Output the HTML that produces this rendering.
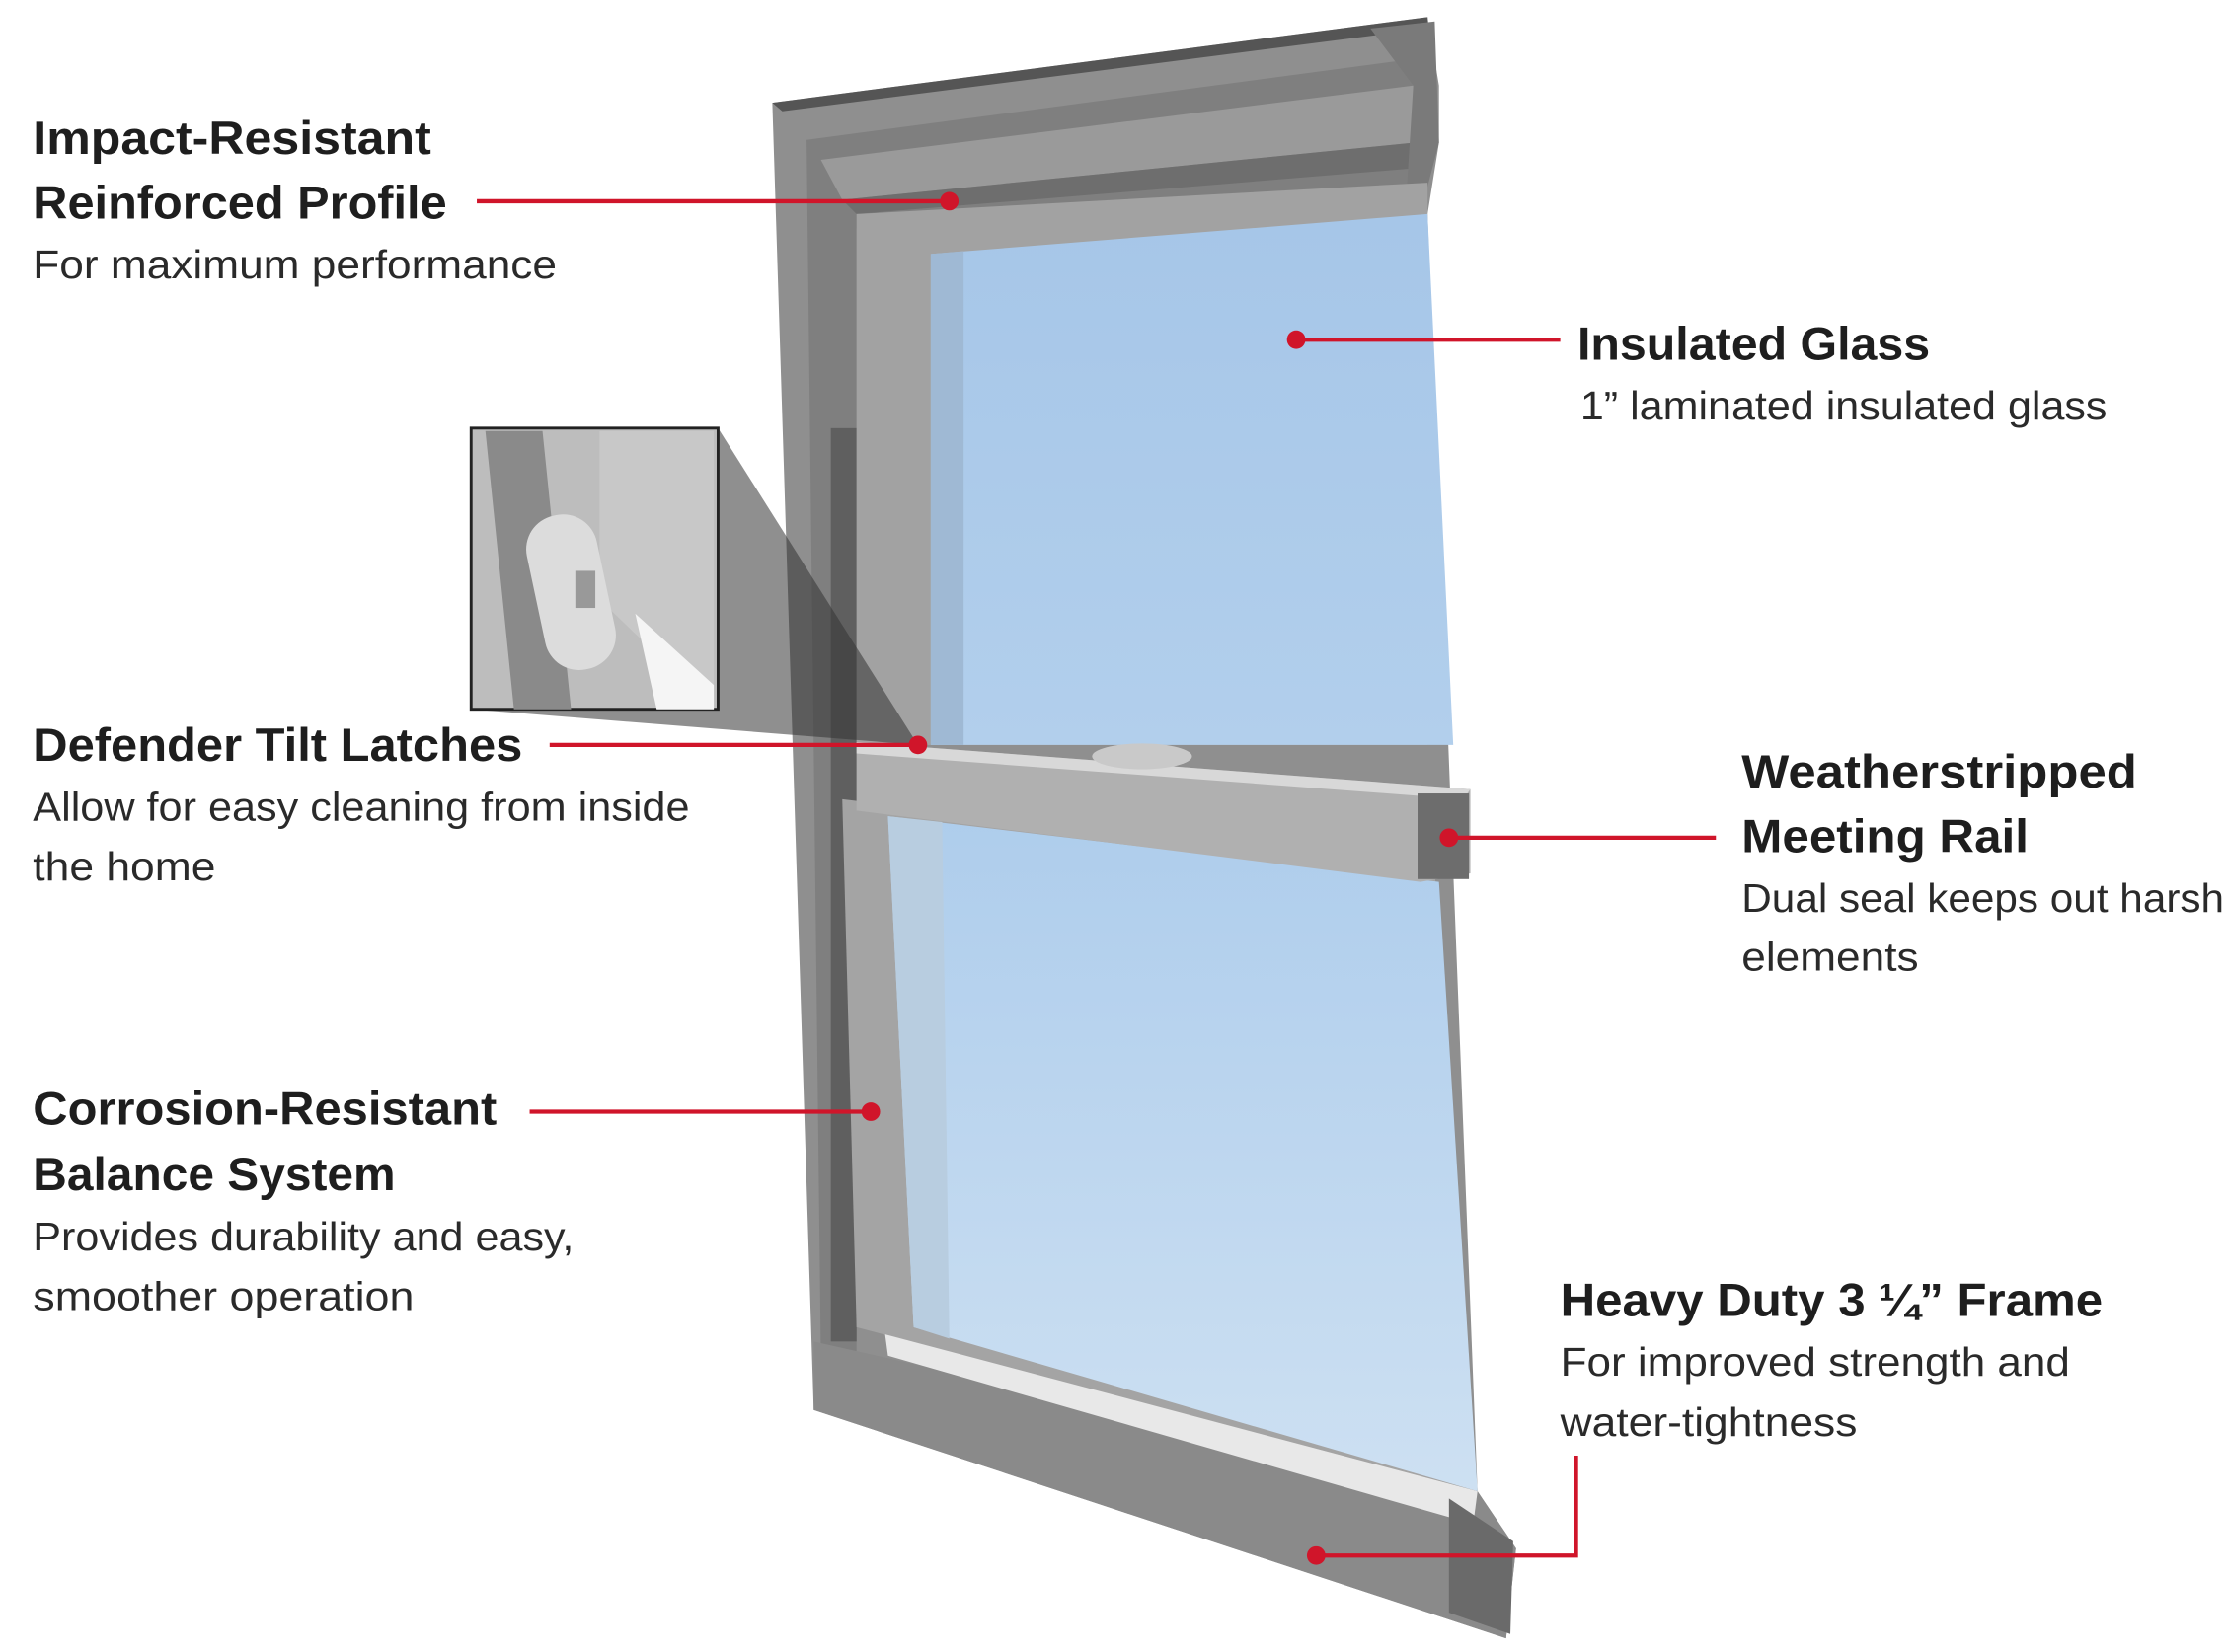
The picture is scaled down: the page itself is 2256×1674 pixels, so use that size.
<!DOCTYPE html>
<html><head><meta charset="utf-8"><style>
html,body{margin:0;padding:0;background:#fff;}
svg{display:block;}
.t{font-family:"Liberation Sans",sans-serif;font-weight:bold;font-size:33px;fill:#1e1e1e;}
.s{font-family:"Liberation Sans",sans-serif;font-size:28px;fill:#2a2a2a;}
</style></head><body>
<svg width="2256" height="1674" viewBox="0 0 1560 1157.6" xmlns="http://www.w3.org/2000/svg">
<defs>
<linearGradient id="g1" x1="0" y1="0" x2="0" y2="1"><stop offset="0" stop-color="#a6c6e8"/><stop offset="1" stop-color="#b2cfec"/></linearGradient>
<linearGradient id="g2" x1="0" y1="0" x2="0" y2="1"><stop offset="0" stop-color="#aecdec"/><stop offset="1" stop-color="#cde0f2"/></linearGradient>
</defs>
<!-- frame -->
<polygon points="541,72 1000,12 1008,60 1008,100 1000,150 1035,1045 1062,1085 1055,1148 570,988" fill="#8f8f8f"/>
<polygon points="541,72 1000,12 1000,20 548,78" fill="#555"/>
<polygon points="565,98 1000,40 1000,130 600,160 600,960 575,950" fill="#7f7f7f"/>
<polygon points="575,112 990,60 990,100 590,140" fill="#9a9a9a"/>
<polygon points="590,140 990,100 990,118 600,150" fill="#6e6e6e"/>
<polygon points="960,20 1005,15 1008,100 995,150 985,140 990,60" fill="#7a7a7a"/>
<rect x="582" y="300" width="18" height="640" fill="#5f5f5f"/>
<!-- upper sash -->
<polygon points="600,150 1000,128 1000,522 600,522" fill="#a2a2a2"/>
<polygon points="652,178 1000,150 1018,522 652,522" fill="url(#g1)"/>
<polygon points="652,178 675,176 675,522 652,522" fill="#9fb9d4"/>
<!-- lower sash -->
<polygon points="590,560 1005,610 1035,1045 600,930" fill="#a4a4a4"/>
<polygon points="622,572 1008,618 1035,1045 640,930" fill="url(#g2)"/>
<polygon points="622,572 660,576 665,938 640,930" fill="#b8cde0"/>
<!-- meeting rail -->
<polygon points="600,520 1030,553 1030,612 995,618 600,568" fill="#b0b0b0"/>
<polygon points="600,520 1030,553 1025,560 600,528" fill="#d8d8d8"/>
<rect x="993" y="556" width="36" height="60" fill="#6d6d6d"/>
<ellipse cx="800" cy="530" rx="35" ry="9" fill="#c9c9c9"/>
<!-- bottom sill -->
<polygon points="570,940 1035,1045 1062,1085 1055,1148 570,988" fill="#8a8a8a"/>
<polygon points="620,935 1035,1045 1032,1068 622,950" fill="#e8e8e8"/>
<polygon points="1015,1050 1060,1080 1058,1145 1015,1130" fill="#6a6a6a"/>
<!-- inset -->
<polygon points="503,300 643,522 330,497" fill="#333" opacity="0.55"/>
<rect x="330" y="300" width="173" height="197" fill="#bdbdbd" stroke="#222" stroke-width="2"/>
<polygon points="340,302 380,302 400,497 360,497" fill="#8a8a8a"/>
<polygon points="420,302 500,302 500,497 420,420" fill="#c8c8c8"/>
<polygon points="445,430 500,480 500,497 460,497" fill="#f5f5f5"/>
<rect x="375" y="360" width="50" height="110" rx="24" fill="#dcdcdc" transform="rotate(-12 400 415)"/>
<rect x="403" y="400" width="14" height="26" fill="#999"/>
<!-- leaders -->
<g stroke="#d0152a" stroke-width="3" fill="none">
<line x1="334" y1="141" x2="665" y2="141"/>
<line x1="908" y1="238" x2="1093" y2="238"/>
<line x1="385" y1="522" x2="643" y2="522"/>
<line x1="1015" y1="587" x2="1202" y2="587"/>
<line x1="371" y1="779" x2="610" y2="779"/>
<polyline points="1104,1020 1104,1090 922,1090"/>
</g>
<g fill="#d0152a">
<circle cx="665" cy="141" r="6.5"/><circle cx="908" cy="238" r="6.5"/><circle cx="643" cy="522" r="6.5"/>
<circle cx="1015" cy="587" r="6.5"/><circle cx="610" cy="779" r="6.5"/><circle cx="922" cy="1090" r="6.5"/>
</g>
<!-- text -->
<text class="t" x="23" y="108" textLength="279" lengthAdjust="spacingAndGlyphs">Impact-Resistant</text>
<text class="t" x="23" y="153" textLength="290" lengthAdjust="spacingAndGlyphs">Reinforced Profile</text>
<text class="s" x="23" y="195" textLength="367" lengthAdjust="spacingAndGlyphs">For maximum performance</text>
<text class="t" x="1105" y="252" textLength="247" lengthAdjust="spacingAndGlyphs">Insulated Glass</text>
<text class="s" x="1107" y="294" textLength="369" lengthAdjust="spacingAndGlyphs">1” laminated insulated glass</text>
<text class="t" x="23" y="533" textLength="343" lengthAdjust="spacingAndGlyphs">Defender Tilt Latches</text>
<text class="s" x="23" y="575" textLength="460" lengthAdjust="spacingAndGlyphs">Allow for easy cleaning from inside</text>
<text class="s" x="23" y="617" textLength="128" lengthAdjust="spacingAndGlyphs">the home</text>
<text class="t" x="1220" y="552" textLength="277" lengthAdjust="spacingAndGlyphs">Weatherstripped</text>
<text class="t" x="1220" y="597" textLength="201" lengthAdjust="spacingAndGlyphs">Meeting Rail</text>
<text class="s" x="1220" y="639" textLength="338" lengthAdjust="spacingAndGlyphs">Dual seal keeps out harsh</text>
<text class="s" x="1220" y="680" textLength="124" lengthAdjust="spacingAndGlyphs">elements</text>
<text class="t" x="23" y="788" textLength="325" lengthAdjust="spacingAndGlyphs">Corrosion-Resistant</text>
<text class="t" x="23" y="834" textLength="254" lengthAdjust="spacingAndGlyphs">Balance System</text>
<text class="s" x="23" y="876" textLength="379" lengthAdjust="spacingAndGlyphs">Provides durability and easy,</text>
<text class="s" x="23" y="918" textLength="267" lengthAdjust="spacingAndGlyphs">smoother operation</text>
<text class="t" x="1093" y="922" textLength="380" lengthAdjust="spacingAndGlyphs">Heavy Duty 3 ¼” Frame</text>
<text class="s" x="1093" y="964" textLength="357" lengthAdjust="spacingAndGlyphs">For improved strength and</text>
<text class="s" x="1093" y="1006" textLength="208" lengthAdjust="spacingAndGlyphs">water-tightness</text>
</svg>
</body></html>
